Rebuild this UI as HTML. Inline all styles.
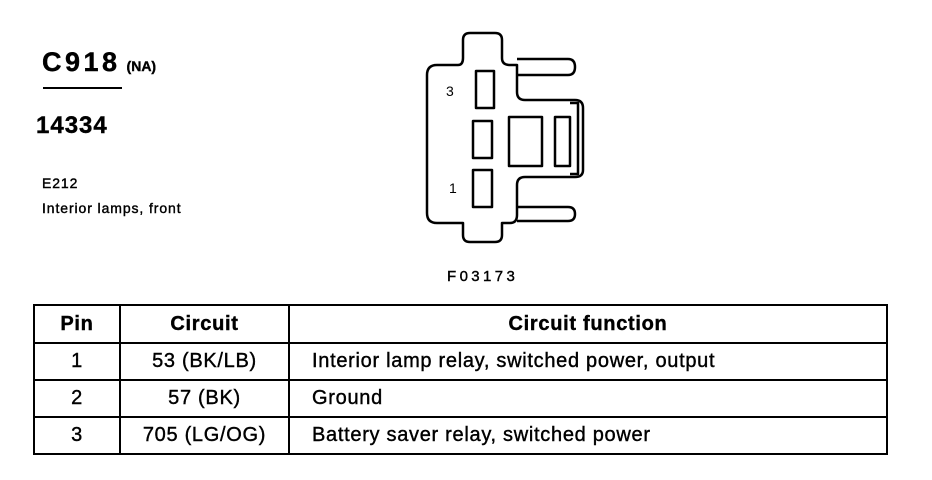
<!DOCTYPE html>
<html><head><style>
body{margin:0;width:932px;height:480px;background:#fff;overflow:hidden;position:relative;font-family:"Liberation Sans",sans-serif;color:#000;-webkit-text-stroke:0.4px #000}
.t{position:absolute;white-space:nowrap}
table{position:absolute;left:33px;top:304px;border-collapse:collapse;width:855px}
td{border:2px solid #000;text-align:center;font-size:20px;letter-spacing:0.7px;padding:0;height:35px}
tr.h td{font-weight:bold;height:36px}
td.l{text-align:left;padding-left:22px}
</style></head><body>
<div class="t" style="left:42px;top:47px;font-size:27px;font-weight:bold;letter-spacing:3.5px">C918<span style="font-size:14px;letter-spacing:0;margin-left:6px">(NA)</span></div>
<div style="position:absolute;left:43px;top:87px;width:79px;height:2px;background:#000"></div>
<div class="t" style="left:36px;top:112px;font-size:24px;font-weight:bold;letter-spacing:1px">14334</div>
<div class="t" style="left:42px;top:175px;font-size:14px;letter-spacing:0.9px">E212</div>
<div class="t" style="left:42px;top:200px;font-size:14px;letter-spacing:0.9px">Interior lamps, front</div>
<div class="t" style="left:447px;top:268px;font-size:15px;letter-spacing:3.4px">F03173</div>
<svg style="position:absolute;left:0;top:0" width="932" height="300">
<g fill="none" stroke="#000" stroke-width="2.5" stroke-linejoin="round" style="-webkit-text-stroke:0">
<path d="M437,65 L458,65 Q463,65 463,58 L463,40 Q463,33 470,33 L495,33 Q502,33 502,40 L502,58 Q502,65 510,65 L517,65 L517,92 Q517,100 525,100 L575,100 Q583,100 583,108 L583,170 Q583,177 575,177 L525,177 Q517,177 517,185 L517,215 Q517,223 510,223 L502,223 L502,235 Q502,242 495,242 L470,242 Q463,242 463,235 L463,223 L437,223 Q427,223 427,213 L427,75 Q427,65 437,65 Z"/>
<path d="M517,59 L568,59 Q575,59 575,67 Q575,75 568,75 L517,75"/>
<path d="M517,207 L568,207 Q575,207 575,214 Q575,221 568,221 L517,221"/>
<path d="M570,103 L578,103 L578,174 L570,174"/>
<rect x="476" y="71" width="18" height="37"/>
<rect x="473" y="121" width="19" height="37"/>
<rect x="473" y="170" width="19" height="37"/>
<rect x="509" y="117" width="33" height="49"/>
<rect x="555" y="117" width="15" height="49"/>
</g>
<text x="446" y="96" font-size="14" font-family="Liberation Sans">3</text>
<text x="449" y="193" font-size="14" font-family="Liberation Sans">1</text>
</svg>
<table>
<tr class="h"><td style="width:84px">Pin</td><td style="width:167px">Circuit</td><td>Circuit function</td></tr>
<tr><td>1</td><td>53 (BK/LB)</td><td class="l">Interior lamp relay, switched power, output</td></tr>
<tr><td>2</td><td>57 (BK)</td><td class="l">Ground</td></tr>
<tr><td>3</td><td>705 (LG/OG)</td><td class="l">Battery saver relay, switched power</td></tr>
</table>
</body></html>
